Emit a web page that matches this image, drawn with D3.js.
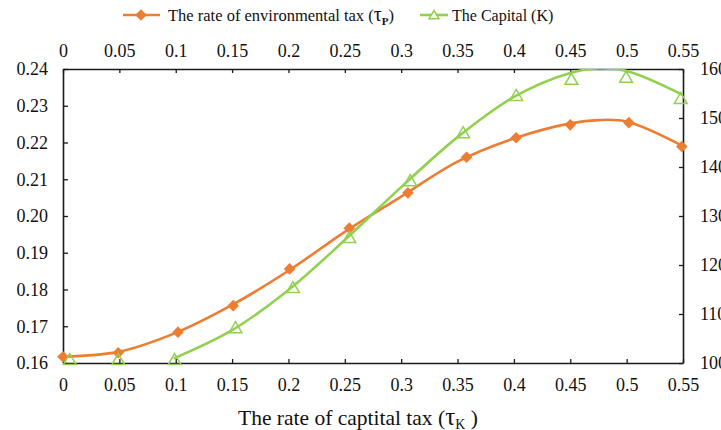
<!DOCTYPE html>
<html>
<head>
<meta charset="utf-8">
<script src="https://cdn.jsdelivr.net/npm/d3@7/dist/d3.min.js"></script>
<style>
  html, body { margin: 0; padding: 0; background: #fff; }
  svg text { font-family: "Liberation Serif", "Times New Roman", serif; fill: #111; }
</style>
</head>
<body>
<svg id="chart" width="721" height="430"></svg>
<script>
// Capital tax rate ticks (shared by top and bottom axes)
const taxTicks = [0, 0.05, 0.1, 0.15, 0.2, 0.25, 0.3, 0.35, 0.4, 0.45, 0.5, 0.55];
const envTicks = [0.16, 0.17, 0.18, 0.19, 0.20, 0.21, 0.22, 0.23, 0.24];
const capTicks = [100, 110, 120, 130, 140, 150, 160];

// Environmental tax rate (left axis): observed points
const envX = [0, 0.049, 0.102, 0.151, 0.201, 0.254, 0.306, 0.358, 0.402, 0.450, 0.502, 0.549];
const envY = [0.1617, 0.1628, 0.1684, 0.1756, 0.1856, 0.1967, 0.2063, 0.2160, 0.2213, 0.2248, 0.2254, 0.2189];
// Environmental tax rate: fitted curve
const envFitX = [0, 0.05, 0.1, 0.15, 0.2, 0.25, 0.3, 0.35, 0.4, 0.45, 0.475, 0.5, 0.55];
const envFitY = [0.1617, 0.1631, 0.1682, 0.1758, 0.1851, 0.1957, 0.2053, 0.2148, 0.2211, 0.2252, 0.2261, 0.2257, 0.2190];

// Capital (right axis): observed points
const capX = [0.006, 0.049, 0.099, 0.153, 0.204, 0.254, 0.308, 0.355, 0.402, 0.451, 0.4995, 0.548];
const capY = [100.8, 100.8, 100.8, 107.3, 115.5, 125.7, 137.3, 147.1, 154.7, 158.0, 158.4, 154.1];
// Capital: fitted curve
const capFitX = [0.099, 0.15, 0.2, 0.25, 0.3, 0.35, 0.4, 0.45, 0.475, 0.5, 0.55];
const capFitY = [101.0, 106.7, 114.9, 125.1, 135.9, 146.1, 154.3, 159.2, 160.1, 159.6, 154.7];

const ORANGE = "#ED7D31";
const GREEN = "#92D050";
const AXIS = "#1a1a1a";
const SERIF = "'Liberation Serif', 'Times New Roman', serif";

const svg = d3.select("#chart");
const pLeft = 63, pRight = 683, pTop = 69, pBottom = 363;

const x = d3.scaleLinear().domain([0, 0.55]).range([pLeft, pRight]);
const yL = d3.scaleLinear().domain([0.16, 0.24]).range([pBottom, pTop]);
const yR = d3.scaleLinear().domain([100, 160]).range([pBottom, pTop]);

const fmtTax = d => (d === 0 ? "0" : String(+d.toFixed(2)));

function styleAxis(g) {
  g.attr("font-family", SERIF);
  g.selectAll("path.domain").attr("stroke", AXIS).attr("stroke-width", 1.6);
  g.selectAll(".tick line").attr("stroke", AXIS).attr("stroke-width", 1.3);
  g.selectAll(".tick text").style("font-family", SERIF).style("font-size", "18px").attr("fill", "#111");
}

// top axis
svg.append("g").attr("transform", `translate(0,${pTop})`)
  .call(d3.axisTop(x).tickValues(taxTicks).tickFormat(fmtTax).tickSizeInner(-4).tickSizeOuter(0).tickPadding(12))
  .call(styleAxis);

// bottom axis
svg.append("g").attr("transform", `translate(0,${pBottom})`)
  .call(d3.axisBottom(x).tickValues(taxTicks).tickFormat(fmtTax).tickSizeInner(-4).tickSizeOuter(0).tickPadding(15))
  .call(styleAxis);

// left axis
svg.append("g").attr("transform", `translate(${pLeft},0)`)
  .call(d3.axisLeft(yL).tickValues(envTicks).tickFormat(d3.format(".2f")).tickSizeInner(-5).tickSizeOuter(0).tickPadding(15))
  .call(styleAxis);

// right axis
svg.append("g").attr("transform", `translate(${pRight},0)`)
  .call(d3.axisRight(yR).tickValues(capTicks).tickFormat(d3.format("d")).tickSizeInner(-4).tickSizeOuter(0).tickPadding(17))
  .call(styleAxis);

// clip to plot area
svg.append("clipPath").attr("id", "plot").append("rect")
  .attr("x", pLeft).attr("y", pTop).attr("width", pRight - pLeft).attr("height", pBottom - pTop);

const diamond = "M0,-5.8L5.8,0L0,5.8L-5.8,0Z";
const triangle = "M0,-6L6.4,5L-6.4,5Z";

const envLine = d3.line().x((d, i) => x(envFitX[i])).y(d => yL(d)).curve(d3.curveCatmullRom.alpha(0.5));
const capLine = d3.line().x((d, i) => x(capFitX[i])).y(d => yR(d)).curve(d3.curveCatmullRom.alpha(0.5));

const plot = svg.append("g").attr("clip-path", "url(#plot)");
plot.append("path").attr("d", envLine(envFitY)).attr("fill", "none")
  .attr("stroke", ORANGE).attr("stroke-width", 2.6).attr("stroke-linecap", "round");
plot.append("path").attr("d", capLine(capFitY)).attr("fill", "none")
  .attr("stroke", GREEN).attr("stroke-width", 2.6).attr("stroke-linecap", "round");

// markers
svg.append("g").selectAll("path").data(envY).join("path")
  .attr("d", diamond).attr("fill", ORANGE)
  .attr("transform", (d, i) => `translate(${x(envX[i])},${yL(d)})`);
svg.append("g").selectAll("path").data(capY).join("path")
  .attr("d", triangle).attr("fill", "none").attr("stroke", GREEN).attr("stroke-width", 1.5)
  .attr("transform", (d, i) => `translate(${x(capX[i])},${yR(d) + 0.5})`);

// legend
const lg = svg.append("g").style("font-family", SERIF);
lg.append("line").attr("x1", 123).attr("x2", 160).attr("y1", 15).attr("y2", 15)
  .attr("stroke", ORANGE).attr("stroke-width", 2.6);
lg.append("path").attr("d", diamond).attr("fill", ORANGE).attr("transform", "translate(141,15)");
const t1 = lg.append("text").attr("x", 168).attr("y", 21).style("font-size", "16.5px").style("font-family", SERIF);
t1.append("tspan").text("The rate of environmental tax (");
t1.append("tspan").text("τ").style("font-size", "20px");
t1.append("tspan").text("P").style("font-size", "11px").style("font-weight", "bold").attr("dy", 4);
t1.append("tspan").text(")").attr("dy", -4);

lg.append("line").attr("x1", 420).attr("x2", 448).attr("y1", 15).attr("y2", 15)
  .attr("stroke", GREEN).attr("stroke-width", 2.6);
lg.append("path").attr("d", "M0,-4.5L5,3.8L-5,3.8Z").attr("fill", "#fff").attr("stroke", GREEN)
  .attr("stroke-width", 1.5).attr("transform", "translate(434,15)");
lg.append("text").attr("x", 452).attr("y", 21).style("font-size", "16px").style("font-family", SERIF).text("The Capital (K)");

// x axis title
const tt = svg.append("text").attr("x", 238).attr("y", 425).style("font-size", "21.5px").style("font-family", SERIF);
tt.append("tspan").text("The rate of captital tax (");
tt.append("tspan").text("τ").style("font-size", "25px");
tt.append("tspan").text("K").style("font-size", "14px").attr("dy", 4);
tt.append("tspan").text(" )").attr("dy", -4);
</script>
</body>
</html>
